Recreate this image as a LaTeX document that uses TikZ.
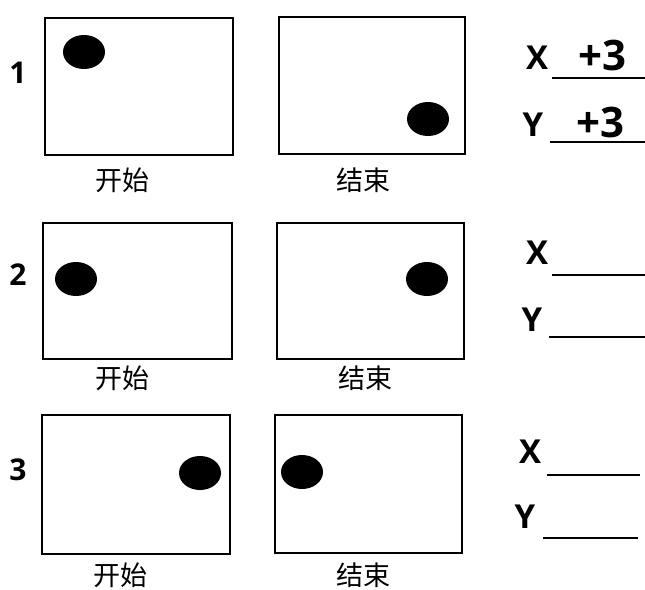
\documentclass[tikz,border=0pt]{standalone}
\usepackage{fontspec}
\newfontfamily\cjkfont{Noto Sans CJK SC}
\newfontfamily\numfont{Open Sans}
\usepackage{tikz}

\tikzset{
  frame/.style={line width=2.6pt},
  spot/.style={fill=black},
  caption/.style={font=\cjkfont\fontsize{27}{27}\selectfont},
  rownum/.style={font=\numfont\bfseries\fontsize{30}{30}\selectfont},
  axis/.style={font=\numfont\bfseries\fontsize{33}{33}\selectfont},
  answer/.style={font=\numfont\bfseries\fontsize{42}{42}\selectfont},
  blank/.style={line width=2pt}
}

\begin{document}
\begin{tikzpicture}[x=1pt,y=-1pt]
\useasboundingbox (0,0) rectangle (645,589);
% row 1
\node[rownum] (num1) at (18,73) {1};
\draw[frame] (45,18) rectangle (233,155);
\fill[spot] (84,52) ellipse (21pt and 17pt);
\draw[frame] (279,17) rectangle (465,154);
\fill[spot] (428,119) ellipse (21pt and 17pt);
\node[caption] (start1) at (122,180) {开始};
\node[caption] (end1) at (363,180) {结束};
\node[axis] (x1) at (537,58) {X};
\node[answer] (dx1) at (602,55) {+3};
\draw[blank] (552,78) -- (645,78);
\node[axis] (y1) at (533,125) {Y};
\node[answer] (dy1) at (600,122) {+3};
\draw[blank] (550,142) -- (645,142);
% row 2
\node[rownum] (num2) at (18,275) {2};
\draw[frame] (43,223) rectangle (232,359);
\fill[spot] (76,279) ellipse (21pt and 17pt);
\draw[frame] (277,223) rectangle (464,359);
\fill[spot] (427,279) ellipse (21pt and 17pt);
\node[caption] (start2) at (122,378) {开始};
\node[caption] (end2) at (365,378) {结束};
\node[axis] (x2) at (537,253) {X};
\draw[blank] (552,275) -- (645,275);
\node[axis] (y2) at (532,320) {Y};
\draw[blank] (549,337) -- (645,337);
% row 3
\node[rownum] (num3) at (18,470) {3};
\draw[frame] (42,415) rectangle (230,554);
\fill[spot] (200,473) ellipse (21pt and 17pt);
\draw[frame] (275,415) rectangle (462,553);
\fill[spot] (302,472) ellipse (21pt and 17pt);
\node[caption] (start3) at (120,575) {开始};
\node[caption] (end3) at (363,575) {结束};
\node[axis] (x3) at (530,452) {X};
\draw[blank] (547,475) -- (640,475);
\node[axis] (y3) at (525,517) {Y};
\draw[blank] (543,538) -- (638,538);
\end{tikzpicture}
\end{document}
